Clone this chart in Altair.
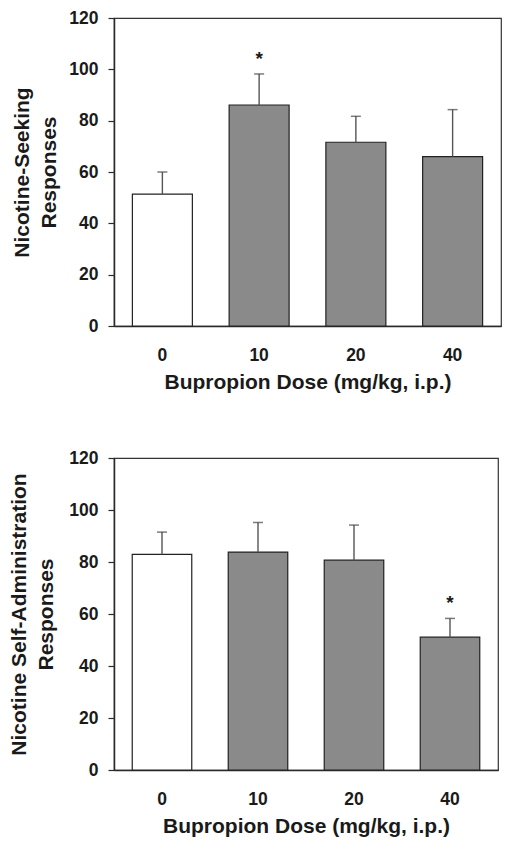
import altair as alt
import pandas as pd

doses = ["0", "10", "20", "40"]
groups = ["vehicle", "bupropion", "bupropion", "bupropion"]
seeking_mean = [51.4, 86.1, 71.6, 66.0]
seeking_upper = [60.0, 98.2, 81.7, 84.3]
seeking_star = ["", "*", "", ""]
sa_mean = [82.9, 83.8, 80.7, 51.1]
sa_upper = [91.5, 95.2, 94.2, 58.3]
sa_star = ["", "", "", "*"]
y_ticks = [0, 20, 40, 60, 80, 100, 120]

FONT = "Liberation Sans"
TXT = "#1a1a1a"


def panel(means, uppers, stars, ytitle, width, height, title_pad):
    df = pd.DataFrame({"dose": doses, "group": groups, "mean": means,
                       "upper": uppers, "star": stars})
    xenc = alt.X("dose:N", sort=doses,
                 scale=alt.Scale(paddingInner=0.38, paddingOuter=0.19),
                 axis=alt.Axis(title="Bupropion Dose (mg/kg, i.p.)", labelAngle=0,
                               ticks=False, labelPadding=20, titlePadding=8,
                               domainColor="#2a2a2a", domainWidth=1.5,
                               labelFont=FONT, labelFontSize=17.5, labelFontWeight="bold",
                               labelColor=TXT, titleFont=FONT, titleFontSize=21,
                               titleFontWeight="bold", titleColor=TXT))
    yaxis = alt.Axis(title=ytitle, values=y_ticks, grid=False, tickSize=6,
                     tickColor="#2a2a2a", tickWidth=1.2, labelPadding=10,
                     titlePadding=title_pad, domainColor="#2a2a2a", domainWidth=1.5,
                     labelFont=FONT, labelFontSize=17.5, labelFontWeight="bold",
                     labelColor=TXT, titleFont=FONT, titleFontSize=21,
                     titleFontWeight="bold", titleColor=TXT, titleLineHeight=27)
    yscale = alt.Scale(domain=[0, 120], nice=False)
    base = alt.Chart(df)
    bars = base.mark_bar(stroke="#222", strokeWidth=1.2).encode(
        x=xenc,
        y=alt.Y("mean:Q", scale=yscale, axis=yaxis),
        fill=alt.Fill("group:N", scale=alt.Scale(domain=["vehicle", "bupropion"],
                                                 range=["#ffffff", "#8a8a8a"]),
                      legend=None),
    )
    rule = base.mark_rule(color="#555", strokeWidth=1.4).encode(
        x=xenc, y=alt.Y("mean:Q", scale=yscale, axis=yaxis), y2="upper:Q")
    cap = base.mark_tick(orient="horizontal", size=10, thickness=1.5, color="#444").encode(
        x=xenc, y=alt.Y("upper:Q", scale=yscale, axis=yaxis))
    star = base.mark_text(font=FONT, fontSize=19, fontWeight="bold", color=TXT,
                          baseline="alphabetic", dy=-9).encode(
        x=xenc, y=alt.Y("upper:Q", scale=yscale, axis=yaxis), text="star:N")
    return alt.layer(bars, rule, cap, star).properties(width=width, height=height)


top = panel(seeking_mean, seeking_upper, seeking_star,
            ["Nicotine-Seeking", "Responses"], 387, 308, 9)
bottom = panel(sa_mean, sa_upper, sa_star,
               ["Nicotine Self-Administration", "Responses"], 384, 312, 12)

chart = alt.vconcat(top, bottom, spacing=54).properties(
    padding={"left": 0, "top": 0, "right": 0, "bottom": 0}
).configure_view(stroke="#333", strokeWidth=1.2)

chart.save("out.html", embed_options={"renderer": "svg", "actions": False})
